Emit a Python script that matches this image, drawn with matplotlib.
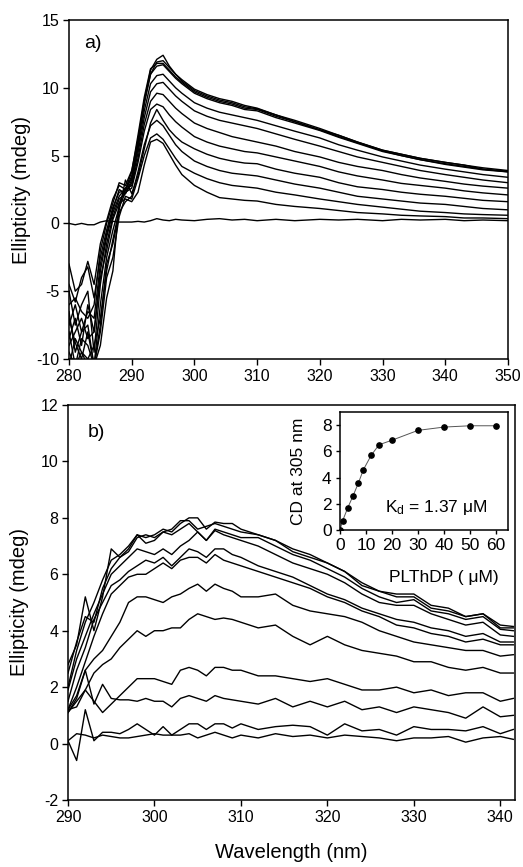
import matplotlib
matplotlib.use("Agg")
import matplotlib.pyplot as plt

plt.rcParams['font.family'] = ['Liberation Sans', 'DejaVu Sans']
plt.rcParams['mathtext.fontset'] = 'custom'
plt.rcParams['mathtext.rm'] = 'Liberation Sans'
plt.rcParams['mathtext.it'] = 'Liberation Sans:italic'
plt.rcParams['axes.unicode_minus'] = False

# ---------------- Panel a data ----------------
wavelength_a = [280, 281, 282, 283, 284, 285, 286, 287, 288, 289, 290, 291, 292, 293, 294, 295,
                296, 297, 298, 300, 302, 304, 306, 308, 310, 313, 316, 320, 323, 326, 330, 333,
                336, 340, 343, 346, 350]
a_c0 = [-4.5, -5.8, -4.0, -3.2, -5.5, -2.5, -0.5, 1.2, 2.3, 2.4, 3.5, 6.0, 9.0, 11.3, 12.1, 12.4,
        11.6, 11.0, 10.6, 9.9, 9.5, 9.2, 9.0, 8.7, 8.5, 8.0, 7.6, 7.0, 6.5, 6.0, 5.4, 5.1, 4.8, 4.5, 4.3, 4.1, 3.9]
a_c1 = [-7.5, -6.0, -8.0, -6.5, -7.0, -3.0, -0.8, 1.0, 2.5, 2.2, 3.2, 5.8, 8.8, 11.0, 11.9, 12.0,
        11.5, 11.0, 10.5, 9.8, 9.4, 9.1, 8.9, 8.6, 8.45, 8.0, 7.5, 6.9, 6.5, 6.0, 5.4, 5.1, 4.8, 4.5, 4.3, 4.0, 3.85]
a_c2 = [-3.0, -5.0, -4.5, -2.8, -4.5, -1.5, 0.2, 1.8, 2.8, 2.5, 3.8, 6.5, 9.3, 11.4, 11.8, 11.8,
        11.3, 10.8, 10.4, 9.7, 9.3, 9.0, 8.8, 8.5, 8.4, 7.9, 7.5, 6.9, 6.4, 5.95, 5.35, 5.0, 4.7, 4.4, 4.2, 4.0, 3.8]
a_c3 = [-6.0, -5.5, -6.5, -7.0, -6.0, -2.0, 0.0, 1.5, 3.0, 2.8, 3.9, 6.2, 9.0, 11.0, 11.6, 11.7,
        11.2, 10.7, 10.3, 9.6, 9.2, 8.9, 8.7, 8.4, 8.3, 7.8, 7.4, 6.85, 6.35, 5.9, 5.3, 5.0, 4.7, 4.35, 4.15, 3.95, 3.8]
a_c4 = [-8.5, -7.0, -9.0, -6.0, -8.0, -3.5, -1.0, 0.8, 2.0, 2.6, 3.3, 5.5, 8.3, 10.3, 10.9, 11.0,
        10.5, 10.0, 9.6, 8.9, 8.5, 8.2, 8.0, 7.8, 7.6, 7.2, 6.8, 6.3, 5.8, 5.4, 4.9, 4.6, 4.3, 4.0, 3.8, 3.6, 3.4]
a_c5 = [-5.0, -7.5, -6.0, -5.0, -9.5, -4.5, -1.5, 0.5, 1.8, 2.2, 3.0, 5.2, 7.8, 9.7, 10.3, 10.4,
        9.9, 9.4, 9.0, 8.3, 7.9, 7.6, 7.4, 7.2, 7.0, 6.6, 6.2, 5.7, 5.3, 4.9, 4.5, 4.2, 3.9, 3.6, 3.4, 3.2, 3.0]
a_c6 = [-9.0, -8.0, -7.0, -8.5, -8.0, -4.0, -2.0, 0.3, 1.5, 2.5, 2.8, 4.8, 7.3, 9.0, 9.6, 9.5,
        9.0, 8.5, 8.1, 7.4, 7.0, 6.7, 6.4, 6.2, 6.0, 5.7, 5.3, 4.9, 4.5, 4.2, 3.9, 3.6, 3.35, 3.1, 2.9, 2.75, 2.6]
a_c7 = [-6.5, -9.5, -8.0, -7.5, -10.5, -6.0, -2.5, -0.5, 1.2, 2.3, 2.6, 4.5, 6.8, 8.4, 8.8, 8.6,
        8.0, 7.5, 7.1, 6.4, 6.0, 5.7, 5.5, 5.3, 5.2, 4.9, 4.6, 4.2, 3.8, 3.5, 3.2, 2.95, 2.8, 2.6, 2.4, 2.25, 2.1]
a_c8 = [-10.5, -8.5, -9.5, -10.0, -9.0, -7.0, -3.5, -1.2, 1.0, 3.2, 2.2, 3.5, 5.5, 7.4, 8.4, 7.6,
        6.9, 6.4, 6.0, 5.5, 5.1, 4.8, 4.6, 4.45, 4.4, 4.0, 3.7, 3.4, 3.0, 2.7, 2.5, 2.3, 2.15, 2.0, 1.85, 1.7, 1.6]
a_c9 = [-7.0, -8.8, -10.0, -8.0, -10.5, -7.5, -3.0, -1.5, 0.8, 1.6, 2.0, 3.8, 5.8, 7.2, 7.6, 7.2,
        6.5, 5.8, 5.3, 4.6, 4.2, 3.9, 3.7, 3.6, 3.5, 3.2, 2.9, 2.6, 2.3, 2.0, 1.8, 1.65, 1.5, 1.4, 1.25, 1.1, 1.0]
a_c10 = [-9.5, -10.5, -8.5, -9.0, -10.5, -8.0, -4.0, -2.5, 0.5, 2.0, 1.8, 3.3, 5.0, 6.3, 6.6, 6.2,
         5.5, 4.8, 4.2, 3.7, 3.3, 3.0, 2.8, 2.7, 2.6, 2.3, 2.1, 1.8, 1.6, 1.4, 1.2, 1.05, 0.9, 0.8, 0.7, 0.65, 0.6]
a_c11 = [-8.0, -10.5, -9.5, -10.5, -10.5, -9.0, -5.5, -3.5, 1.5, 1.8, 1.6, 2.3, 4.3, 6.0, 6.2, 5.9,
         5.1, 4.3, 3.6, 2.8, 2.3, 1.9, 1.8, 1.7, 1.65, 1.4, 1.25, 1.1, 0.95, 0.8, 0.7, 0.6, 0.55, 0.5, 0.4, 0.4, 0.35]
a_base = [0.0, -0.1, 0.0, -0.1, -0.1, 0.1, 0.2, 0.15, 0.1, 0.1, 0.1, 0.15, 0.1, 0.2, 0.35, 0.25,
          0.2, 0.3, 0.25, 0.2, 0.3, 0.35, 0.25, 0.3, 0.2, 0.3, 0.2, 0.3, 0.25, 0.3, 0.2, 0.3, 0.25, 0.3, 0.2, 0.25, 0.2]
curves_a = [a_c0, a_c1, a_c2, a_c3, a_c4, a_c5, a_c6, a_c7, a_c8, a_c9, a_c10, a_c11, a_base]

# ---------------- Panel b data ----------------
wavelength_b = [290, 291, 292, 293, 294, 295, 296, 297, 298, 299, 300, 301, 302, 303, 304, 305,
                306, 307, 308, 309, 310, 312, 314, 316, 318, 320, 322, 324, 326, 328, 330, 332,
                334, 336, 338, 340, 341.5]
b_c0 = [2.0, 3.3, 4.3, 5.0, 5.8, 6.5, 6.7, 7.0, 7.4, 7.3, 7.4, 7.6, 7.5, 7.8, 8.0, 8.0,
        7.6, 7.85, 7.8, 7.8, 7.6, 7.4, 7.2, 6.9, 6.7, 6.4, 6.1, 5.7, 5.4, 5.3, 5.3, 4.9, 4.8, 4.5, 4.6, 4.2, 4.15]
b_c1 = [2.8, 3.5, 5.2, 4.0, 5.2, 6.9, 6.6, 6.9, 7.4, 7.1, 7.2, 7.5, 7.6, 7.9, 7.9, 7.6,
        7.7, 7.8, 7.7, 7.6, 7.5, 7.4, 7.2, 6.8, 6.6, 6.4, 6.1, 5.6, 5.4, 5.2, 5.2, 4.8, 4.7, 4.5, 4.6, 4.1, 4.1]
b_c2 = [2.5, 3.6, 4.5, 4.3, 5.5, 6.2, 6.6, 6.8, 7.3, 7.4, 7.3, 7.5, 7.4, 7.6, 7.8, 7.5,
        7.2, 7.6, 7.5, 7.4, 7.3, 7.3, 7.0, 6.7, 6.5, 6.2, 5.9, 5.5, 5.2, 5.0, 5.1, 4.7, 4.6, 4.4, 4.5, 4.05, 4.0]
b_c3 = [1.9, 3.0, 3.8, 4.6, 5.3, 6.0, 6.3, 6.6, 6.9, 6.8, 6.7, 6.9, 6.7, 7.0, 7.2, 7.5,
        7.2, 7.55, 7.4, 7.3, 7.2, 7.0, 6.7, 6.4, 6.2, 6.0, 5.7, 5.3, 5.0, 4.9, 4.9, 4.6, 4.4, 4.2, 4.3, 3.85, 3.8]
b_c4 = [1.5, 2.6, 3.4, 4.4, 5.0, 5.6, 5.8, 6.1, 6.3, 6.5, 6.4, 6.6, 6.3, 6.6, 6.9, 6.8,
        6.6, 6.9, 6.9, 6.7, 6.6, 6.3, 6.1, 5.9, 5.6, 5.3, 5.1, 4.8, 4.6, 4.4, 4.3, 4.1, 4.0, 3.8, 3.9, 3.6, 3.6]
b_c5 = [1.2, 2.0, 2.9, 3.8, 4.6, 5.3, 5.6, 5.9, 6.0, 6.0, 6.2, 6.4, 6.2, 6.5, 6.6, 6.6,
        6.4, 6.7, 6.5, 6.4, 6.3, 6.1, 5.9, 5.7, 5.5, 5.2, 5.0, 4.7, 4.5, 4.2, 4.1, 3.9, 3.8, 3.6, 3.7, 3.5, 3.5]
b_c6 = [1.2, 1.7, 2.6, 3.0, 3.3, 3.8, 4.3, 5.0, 5.2, 5.2, 5.1, 5.0, 5.2, 5.3, 5.5, 5.65,
        5.4, 5.65, 5.5, 5.4, 5.2, 5.2, 5.3, 4.9, 4.7, 4.6, 4.5, 4.3, 4.0, 3.8, 3.6, 3.5, 3.4, 3.3, 3.3, 3.1, 3.15]
b_c7 = [1.1, 1.5, 1.9, 2.5, 2.8, 3.0, 3.4, 3.7, 4.0, 3.8, 4.0, 4.0, 4.1, 4.1, 4.4, 4.6,
        4.5, 4.4, 4.45, 4.4, 4.3, 4.1, 4.2, 3.8, 3.5, 3.8, 3.5, 3.3, 3.2, 3.1, 2.9, 2.9, 2.7, 2.6, 2.7, 2.5, 2.5]
b_c8 = [1.2, 1.3, 1.9, 1.5, 1.1, 1.4, 1.7, 2.0, 2.3, 2.3, 2.3, 2.2, 2.1, 2.6, 2.7, 2.6,
        2.4, 2.7, 2.7, 2.6, 2.6, 2.4, 2.4, 2.3, 2.2, 2.3, 2.1, 1.9, 1.9, 2.0, 1.8, 1.9, 1.7, 1.8, 1.8, 1.5, 1.6]
b_c9 = [1.1, 1.6, 2.6, 1.4, 2.1, 1.6, 1.55, 1.55, 1.5, 1.6, 1.5, 1.5, 1.3, 1.6, 1.7, 1.6,
        1.5, 1.7, 1.6, 1.55, 1.5, 1.4, 1.6, 1.3, 1.5, 1.3, 1.5, 1.2, 1.3, 1.1, 1.3, 1.2, 1.1, 0.9, 1.3, 0.95, 1.0]
b_c10 = [0.1, -0.6, 1.2, 0.1, 0.4, 0.4, 0.35, 0.5, 0.7, 0.5, 0.3, 0.6, 0.3, 0.5, 0.7, 0.7,
         0.5, 0.7, 0.7, 0.55, 0.7, 0.5, 0.6, 0.65, 0.6, 0.3, 0.7, 0.45, 0.5, 0.3, 0.6, 0.5, 0.5, 0.45, 0.6, 0.35, 0.5]
b_base = [0.1, 0.35, 0.3, 0.2, 0.3, 0.25, 0.2, 0.2, 0.25, 0.3, 0.35, 0.3, 0.3, 0.3, 0.35, 0.2,
          0.3, 0.4, 0.3, 0.2, 0.3, 0.2, 0.35, 0.25, 0.3, 0.2, 0.3, 0.25, 0.2, 0.1, 0.2, 0.2, 0.25, 0.05, 0.2, 0.25, 0.15]
curves_b = [b_c0, b_c1, b_c2, b_c3, b_c4, b_c5, b_c6, b_c7, b_c8, b_c9, b_c10, b_base]

# ---------------- Inset data ----------------
pl_thdp_um = [0, 1, 3, 5, 7, 9, 12, 15, 20, 30, 40, 50, 60]
cd_305 = [0.0, 0.7, 1.7, 2.6, 3.55, 4.6, 5.7, 6.5, 6.85, 7.6, 7.85, 7.95, 7.95]

TICK_FS = 11.5
LABEL_FS = 14.5

fig = plt.figure(figsize=(5.23, 8.67), dpi=100)

def style_axes(ax, fs=TICK_FS):
    for s in ax.spines.values():
        s.set_linewidth(1.1)
    ax.tick_params(direction='out', length=4, width=1.0, labelsize=fs, pad=3,
                   top=False, right=False)

# Panel a
ax_a = fig.add_axes([69/523, 1-359/867, 439/523, 339/867])
for c in curves_a:
    ax_a.plot(wavelength_a, c, color='black', lw=1.0)
ax_a.set_xlim(280, 350)
ax_a.set_ylim(-10, 15)
ax_a.set_xticks(range(280, 351, 10))
ax_a.set_yticks(range(-10, 16, 5))
ax_a.set_ylabel('Ellipticity (mdeg)', fontsize=LABEL_FS, labelpad=4)
ax_a.text(0.035, 0.93, 'a)', transform=ax_a.transAxes, fontsize=14, va='center')
style_axes(ax_a)

# Panel b
ax_b = fig.add_axes([68/523, 1-800/867, 447/523, 395/867])
for c in curves_b:
    ax_b.plot(wavelength_b, c, color='black', lw=1.0)
ax_b.set_xlim(290, 341.7)
ax_b.set_ylim(-2, 12)
ax_b.set_xticks(range(290, 341, 10))
ax_b.set_yticks(range(-2, 13, 2))
ax_b.set_ylabel('Ellipticity (mdeg)', fontsize=LABEL_FS, labelpad=8)
ax_b.set_xlabel('Wavelength (nm)', fontsize=LABEL_FS, labelpad=13)
ax_b.text(0.045, 0.93, 'b)', transform=ax_b.transAxes, fontsize=14, va='center')
style_axes(ax_b)

# Inset
ax_i = fig.add_axes([340/523, 1-530/867, 168/523, 118/867])
ax_i.plot(pl_thdp_um, cd_305, color='#555555', lw=0.7)
ax_i.plot(pl_thdp_um, cd_305, 'o', color='black', ms=3.8)
ax_i.set_xlim(0, 64.6)
ax_i.set_ylim(0, 9)
ax_i.set_xticks(range(0, 61, 10))
ax_i.set_yticks(range(0, 9, 2))
ax_i.set_xlabel('PLThDP ( μM)', fontsize=12.5)
ax_i.xaxis.set_label_coords(0.62, -0.34)
ax_i.set_ylabel('CD at 305 nm', fontsize=12.5)
ax_i.yaxis.set_label_coords(-0.2, 0.5)
ax_i.text(37, 1.7, r'K$_\mathrm{d}$ = 1.37 μM', fontsize=12.5, ha='center', va='center')
style_axes(ax_i, fs=12.5)
ax_i.tick_params(length=3, pad=3)

fig.savefig('out.png', dpi=100)
